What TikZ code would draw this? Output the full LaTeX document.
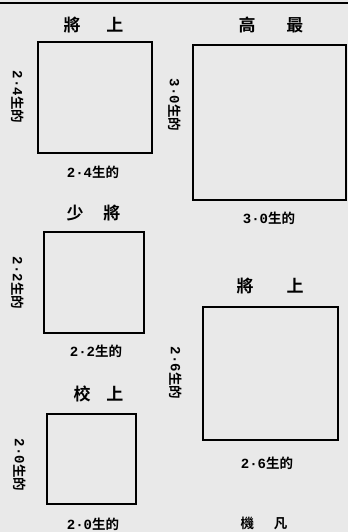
\documentclass[tikz,border=0pt]{standalone}
\usepackage{fontspec}
\newfontfamily\cjk{Noto Sans CJK TC Bold}
\newfontfamily\digit{Liberation Mono Bold}
\newcommand\num[1]{{\digit\fontsize{14}{14}\selectfont #1}}
\begin{document}
\begin{tikzpicture}
	[x=1pt,y=-1pt,
	every node/.style={inner sep=0pt},
	sq/.style={draw,line width=1.8pt},
	title/.style={font=\cjk\fontsize{17}{17}\selectfont},
	size/.style={font=\cjk\fontsize{13.5}{13.5}\selectfont}]
	\fill[gray!17] (0,0) rectangle (348,532);
	\useasboundingbox (0,0) rectangle (348,532);
	\draw[line width=2pt] (0,3) -- (348,3);
	% squares
	\draw[sq] (38,42) rectangle (152,153) coordinate (A);
	\draw[sq] (193,45) rectangle (346,200) coordinate (B);
	\draw[sq] (44,232) rectangle (144,333) coordinate (C);
	\draw[sq] (203,307) rectangle (338,440) coordinate (D);
	\draw[sq] (47,414) rectangle (136,504) coordinate (E);
	% titles
	\node[title] (tA) at (93.5,25) {將\hspace{26pt}上};
	\node[title] (tB) at (271,25) {高\hspace{31pt}最};
	\node[title] (tC) at (93.5,213) {少\hspace{20pt}將};
	\node[title] (tE) at (98.5,394) {校\hspace{16pt}上};
	\node[title] (tD) at (270,286) {將\hspace{33pt}上};
	\node[size] (fD) at (264,523) {機\hspace{20pt}凡};
	% sizes
	\node[size] (bA) at (93,172) {\num{2·4}生的};
	\node[size,rotate=-90] (lA) at (18,97) {\num{2·4}生的};
	\node[size] (bB) at (269,218) {\num{3·0}生的};
	\node[size,rotate=-90] (lB) at (175,105) {\num{3·0}生的};
	\node[size] (bC) at (96,351) {\num{2·2}生的};
	\node[size,rotate=-90] (lC) at (18,283) {\num{2·2}生的};
	\node[size] (bD) at (267,463) {\num{2·6}生的};
	\node[size,rotate=-90] (lD) at (176,373) {\num{2·6}生的};
	\node[size] (bE) at (93,524) {\num{2·0}生的};
	\node[size,rotate=-90] (lE) at (20,465) {\num{2·0}生的};
\end{tikzpicture}
\end{document}
